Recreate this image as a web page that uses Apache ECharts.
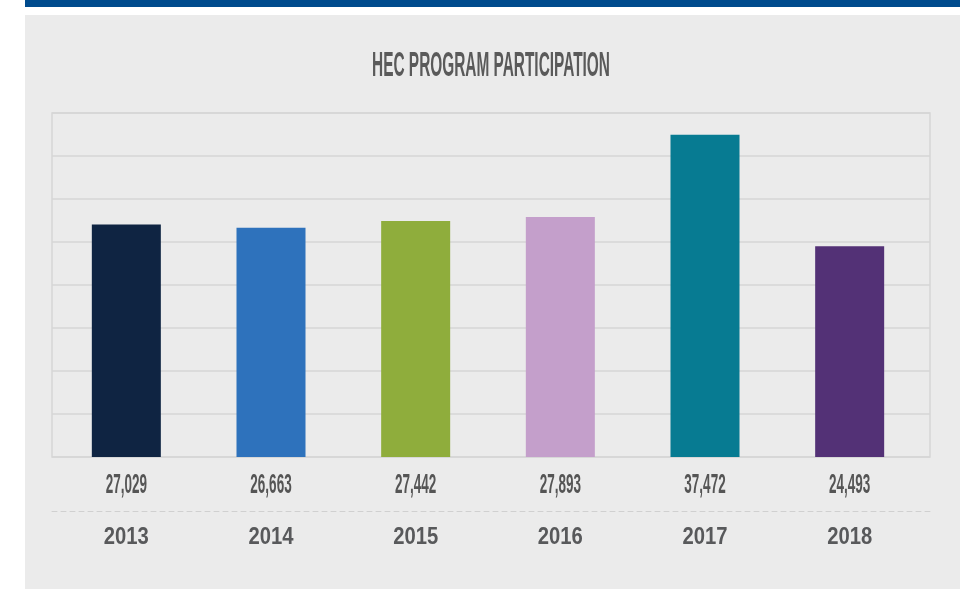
<!DOCTYPE html>
<html><head><meta charset="utf-8">
<script src="https://cdn.jsdelivr.net/npm/echarts@6/dist/echarts.min.js"></script>
<style>html,body{margin:0;padding:0;background:#fff}#c{width:980px;height:589px}</style>
</head><body><div id="c"></div>
<script>
const titleText = 'HEC PROGRAM PARTICIPATION';
const years = ['2013','2014','2015','2016','2017','2018'];
const participants = [27029, 26663, 27442, 27893, 37472, 24493];
const barColors = ['#0f2442','#2e72bc','#8fad3c','#c49fcb','#077b92','#533176'];

const fmt = v => Number(v).toLocaleString('en-US');
const chart = echarts.init(document.getElementById('c'), null, {renderer:'canvas'});
const gridBox = {top:113, bottom:132};
chart.setOption({
  animation:false,
  backgroundColor:'#ffffff',
  graphic:[
    {type:'rect', z:-10, shape:{x:25,y:0,width:935,height:7}, style:{fill:'#004b8d'}},
    {type:'rect', z:-10, shape:{x:25,y:15,width:935,height:580}, style:{fill:'#ebebeb'}},
    {type:'text', z:10, x:491, y:66, scaleX:0.44,
      style:{text:titleText, fill:'#5a5a5a', font:'bold 35px "Liberation Sans", Arial, sans-serif', textAlign:'center', textVerticalAlign:'middle'}}
  ],
  grid:[
    {left:52, right:50, top:gridBox.top, bottom:gridBox.bottom, show:true, borderColor:'#d6d6d6', borderWidth:1.5, backgroundColor:'transparent'},
    {left:54, right:58, top:gridBox.top, bottom:gridBox.bottom}
  ],
  xAxis:[
    {type:'category', gridIndex:0, data:years, position:'bottom', offset:54,
      axisLine:{show:true, onZero:false, lineStyle:{color:'#d0d0d0', type:[5,4], width:1}}, axisTick:{show:false},
      axisLabel:{show:false}},
    {type:'category', gridIndex:1, data:years, position:'bottom',
      axisLine:{show:false}, axisTick:{show:false}, axisLabel:{show:false}}
  ],
  yAxis:[
    {type:'value', gridIndex:0, min:0, max:40000, interval:5000,
      axisLabel:{show:false}, axisLine:{show:false}, axisTick:{show:false},
      splitLine:{lineStyle:{color:'#d6d6d6', width:1.5}}},
    {type:'value', gridIndex:1, min:0, max:40000, interval:5000,
      axisLabel:{show:false}, axisLine:{show:false}, axisTick:{show:false}, splitLine:{show:false}}
  ],
  series:[
    {type:'line', xAxisIndex:0, yAxisIndex:0, data:[], silent:true},
    {type:'bar', xAxisIndex:1, yAxisIndex:1, barWidth:'47.7%',
      data:participants.map((v,i)=>({value:v, itemStyle:{color:barColors[i]}}))},
    {type:'custom', xAxisIndex:1, yAxisIndex:1, clip:false, silent:true,
      data:participants.map((v,i)=>[i, v]),
      renderItem:(params, api)=>{
        const i = api.value(0);
        const p = api.coord([i, 0]);
        return {type:'group', children:[
          {type:'text', x:p[0], y:p[1]+29, scaleX:0.5,
            style:{text:fmt(api.value(1)), fill:'#555555', font:'bold 27px "Liberation Sans", Arial, sans-serif',
              textAlign:'center', textVerticalAlign:'middle'}},
          {type:'text', x:p[0], y:p[1]+81, scaleX:0.88,
            style:{text:years[i], fill:'#58595b', font:'bold 23px "Liberation Sans", Arial, sans-serif',
              textAlign:'center', textVerticalAlign:'middle'}}
        ]};
      }}
  ]
});
</script></body></html>
